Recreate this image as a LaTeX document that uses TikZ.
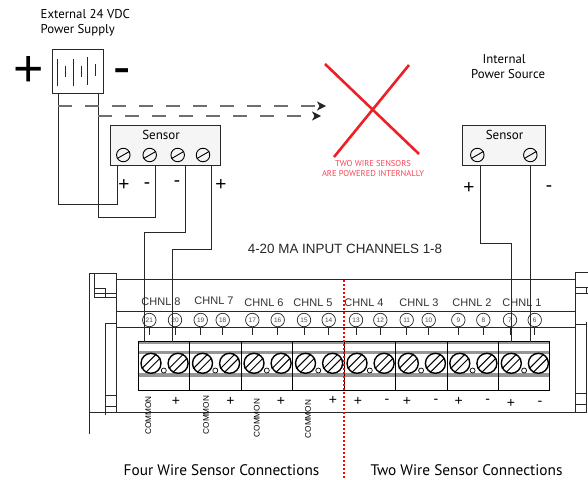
\documentclass[tikz,border=0pt]{standalone}
\usepackage{fontspec}
\setmainfont{PT Sans}
\newfontfamily\chnlfont{Liberation Sans}
\usetikzlibrary{arrows.meta,calc,positioning}
\definecolor{wireColor}{RGB}{40,40,40}
\definecolor{dashColor}{RGB}{110,110,110}
\definecolor{crossColor}{RGB}{237,32,39}
\definecolor{noteColor}{RGB}{245,70,85}
\definecolor{sensorColor}{RGB}{245,245,245}
\definecolor{bandColor}{RGB}{150,150,150}
\tikzset{wire/.style={draw=wireColor, line width=.95pt}}
\tikzset{frame/.style={draw=wireColor, line width=.9pt}}
\tikzset{dashwire/.style={draw=dashColor, line width=1.2pt, dash pattern=on 14pt off 13pt}}
\tikzset{sensorbox/.style={draw=wireColor, fill=sensorColor, line width=.95pt, inner sep=0pt}}
\tikzset{sensorscrew/.style={circle, draw=black, line width=.9pt, minimum size=13.5pt, inner sep=0pt}}
\tikzset{termscrew/.style={circle, draw=black, line width=1.4pt, minimum size=20pt, inner sep=0pt}}
\tikzset{numlabel/.style={circle, draw=wireColor, fill=white, line width=.7pt, minimum size=13.5pt, inner sep=0pt, font=\chnlfont\fontsize{6.5}{6.5}\selectfont, text=black!70}}
\tikzset{chnl/.style={font=\chnlfont\fontsize{11}{11}\selectfont, text=black!80, inner sep=0pt}}
\tikzset{polarity/.style={font=\chnlfont\fontsize{14}{14}\selectfont, inner sep=0pt}}
\tikzset{common/.style={font=\chnlfont\fontsize{8.2}{8.2}\selectfont, rotate=90, inner sep=0pt}}
\tikzset{caption/.style={font=\fontsize{15.3}{15.3}\selectfont, inner sep=0pt}}
\tikzset{note/.style={font=\fontsize{12.8}{12.8}\selectfont, inner sep=0pt, anchor=west}}
\begin{document}
\begin{tikzpicture}[x=1pt, y=-1pt]
\pgfdeclarelayer{background}
\pgfsetlayers{background,main}
\useasboundingbox (0,0) rectangle (588,479);

% Nodes
\node (ExternalLabel) [note] at (40.5,14) {External 24 VDC};
\node (SupplyLabel) [note] at (40.5,30) {Power Supply};
\node (InternalLabel) [note] at (482.5,59) {Internal};
\node (SourceLabel) [note] at (471,74.5) {Power Source};

\node (PowerSupply) [sensorbox, fill=white, minimum width=50.6pt, minimum height=44.3pt] at (78,71.8) {};
\node (SupplyPlus) [font=\chnlfont\fontsize{52}{52}\selectfont, inner sep=0pt] at (29,71) {+};
\node (SupplyMinus) [font=\chnlfont\fontsize{52}{52}\selectfont, inner sep=0pt] at (122.5,76.5) {-};

\node (SensorFour) [sensorbox, minimum width=109.7pt, minimum height=40.3pt] at (165.2,145.8) {};
\node (SensorFourLabel) [font=\fontsize{13}{13}\selectfont, inner sep=0pt] at (161,135) {Sensor};
\node (SensorTwo) [sensorbox, minimum width=82.7pt, minimum height=40.3pt] at (504.3,145.8) {};
\node (SensorTwoLabel) [font=\fontsize{13}{13}\selectfont, inner sep=0pt] at (504.5,135) {Sensor};

\node (InputTitle) [font=\chnlfont\fontsize{13.4}{13.4}\selectfont, text=black!85, inner sep=0pt] at (345,249) {4-20 MA INPUT CHANNELS 1-8};
\node (CrossNote) [font=\fontsize{8.5}{10}\selectfont, text=noteColor, inner sep=0pt, align=center] at (373,169) {TWO WIRE SENSORS\\ ARE POWERED INTERNALLY};
\node (FourWireCaption) [caption] at (221.5,470) {Four Wire Sensor Connections};
\node (TwoWireCaption) [caption] at (466.5,470) {Two Wire Sensor Connections};

% Sensor screws
\foreach \name/\xpos in {A/123.3,B/149.7,C/177.7,D/203,E/477.3,F/530.3} {
  \node (Screw\name) [sensorscrew] at (\xpos,155) {};
  \draw [line width=.9pt] (Screw\name.210) -- (Screw\name.30);
}

% Battery plates
\foreach \xpos/\ytop/\ybot in {57.3/59/86,65.3/66/77,73/59/86,81/66/77,87.7/57/85,95.7/64/76} {
  \draw [frame] (\xpos,\ytop) -- (\xpos,\ybot);
}

% Sensor polarity marks
\foreach \name/\xpos/\ypos/\mark in {A/124/185/+,B/147/186/-,C/177/184/-,D/221/185/+,E/469/188/+,F/549/189/-} {
  \node (Polarity\name) [polarity, font=\chnlfont\fontsize{19}{19}\selectfont] at (\xpos,\ypos) {\mark};
}

% Base frame
\draw [frame] (116,279.5) -- (575.5,279.5);
\draw [frame] (116,311.7) -- (575.5,311.7);
\draw [frame] (116,327.3) -- (575.5,327.3);
\draw [frame] (89,412.7) -- (586,412.7);

\draw [frame] (89,433.7) -- (89,273) -- (116,273) -- (116,412.7);
\draw [frame] (94.3,273) -- (94.3,297) -- (116,297);
\draw [frame] (94.3,293.7) -- (116,293.7);
\draw [frame] (94.3,288) -- (105.7,288) -- (105.7,297);
\draw [frame] (105,414.7) -- (105,323.7) -- (116,323.7);
\draw [frame] (105,395) -- (116,395);
\draw [frame] (105,406) -- (116,406);

\draw [frame] (575.5,412.7) -- (575.5,272) -- (588,272);
\draw [frame] (575.5,287) -- (588,287);
\draw [frame] (575.5,293) -- (588,293);
\draw [frame] (586,287) -- (586,293);
\draw [frame] (575.5,324) -- (586.3,324);
\draw [frame] (586.3,322) -- (586.3,412.7);
\draw [frame] (575.5,393.7) -- (586.3,393.7);
\draw [frame] (575.5,404) -- (586.3,404);

% Terminal block
\node (TerminalBlock) [draw=black, line width=.95pt, inner sep=0pt, minimum width=411pt, minimum height=49pt] at (343.7,366) {};
\begin{pgfonlayer}{background}
\fill [bandColor] (138.3,341.5) rectangle (549.3,343.5);
\fill [bandColor] (138.3,350.7) rectangle (549.3,354);
\fill [bandColor] (138.3,373.3) rectangle (549.3,376.7);
\end{pgfonlayer}
\foreach \xpos in {189.6,241,292.6,344.4,395.7,447,498.3} {
  \draw [line width=.95pt] (TerminalBlock.north -| \xpos,0) -- (TerminalBlock.south -| \xpos,0);
}

% Terminal screws, one pair for each channel
\foreach \num/\xpos in {1/151,2/202.5,3/254,4/305.5,5/357,6/408.3,7/459.8,8/511.3} {
  \node (ScrewLeft\num) [termscrew] at (\xpos,363.3) {};
  \node (ScrewRight\num) [termscrew, right=5.7pt of ScrewLeft\num] {};
  \node (ScrewHole\num) [circle, draw=black, line width=.7pt, minimum size=5pt, inner sep=0pt] at (\xpos+12.8,370.5) {};
  \foreach \side in {Left,Right} {
    \draw [line width=1pt] (Screw\side\num.60) -- (Screw\side\num.210);
    \draw [line width=1pt] (Screw\side\num.30) -- (Screw\side\num.240);
  }
}

% Numbered contacts
\foreach \num/\xpos in {21/149.3,20/175,19/200.7,18/222.7,17/252.3,16/277.7,15/304,14/328.7,13/356,12/380.3,11/406.7,10/428.7,9/458.3,8/483.3,7/510,6/534.7} {
  \node (Contact\num) [numlabel] at (\xpos,320) {\num};
  \draw [line width=.8pt, draw=wireColor] (Contact\num.south) -- ++(0,8);
}

% Channel names
\foreach \num/\xpos/\ypos in {8/161/302,7/214/301,6/264/303,5/313/303,4/364/303,3/419/303,2/472/303,1/522/303} {
  \node (Channel\num) [chnl] at (\xpos,\ypos) {CHNL \num};
}

% Polarity below the block
\foreach \name/\xpos/\ypos/\mark in {a/176/401/+,b/230.5/401/+,c/281/401/+,d/333/400/+,e/358/401/+,f/387/401/-,g/407/401/+,h/436/401/-,i/458.7/401/+,j/487.7/401/-,k/511/403/+,l/540/403/-} {
  \node (Mark\name) [polarity] at (\xpos,\ypos) {\mark};
}
\foreach \name/\xpos/\ypos in {a/148.3/415.7,b/206/415,c/256.7/418,d/308/419} {
  \node (Common\name) [common] at (\xpos,\ypos) {COMMON};
}

% Connectors
\coordinate (SupplyLeft) at (58,94);
\coordinate (SupplyRight) at (98.3,94);
\coordinate (FourPlus) at (117.3,166);
\coordinate (FourMinus) at (155.7,166);
\coordinate (LoopMinus) at (185.7,166);
\coordinate (LoopPlus) at (211,166);
\coordinate (TwoPlus) at (480,166);
\coordinate (TwoMinus) at (530.3,166);
\coordinate (PinCommon) at (144.3,341.5);
\coordinate (PinPlus) at (172.7,341.5);
\coordinate (PinSeven) at (511,341.5);
\coordinate (PinSix) at (530.3,341.5);
\coordinate (DashTop) at (58,106);
\coordinate (DashLow) at (98.3,116);
\coordinate (TipTop) at (326,106);
\coordinate (TipLow) at (321,116);

\draw [wire] (SupplyLeft) |- (FourPlus |- 0,204) -- (FourPlus);
\draw [wire] (SupplyRight) |- (FourMinus |- 0,217) -- (FourMinus);
\draw [wire] (LoopMinus) |- (PinCommon |- 0,232) -- (PinCommon);
\draw [wire] (LoopPlus) |- (PinPlus |- 0,249.3) -- (PinPlus);
\draw [wire] (TwoPlus) |- (PinSeven |- 0,243.7) -- (PinSeven);
\draw [wire] (TwoMinus) -- (PinSix);

\draw [dashwire, -{Stealth[length=9pt, width=9pt, inset=2.5pt, black!85]}] (DashTop) -- (TipTop);
\draw [dashwire, -{Stealth[length=9pt, width=9pt, inset=2.5pt, black!85]}] (DashLow) -- (TipLow);

\coordinate (CrossA) at (325,64);
\coordinate (CrossB) at (419,154);
\coordinate (CrossC) at (409,65);
\coordinate (CrossD) at (334,157);
\draw [draw=crossColor, line width=2.6pt] (CrossA) -- (CrossB);
\draw [draw=crossColor, line width=2.6pt] (CrossC) -- (CrossD);

\coordinate (DividerTop) at (344,280);
\coordinate (DividerEnd) at (344,479);
\draw [draw=red, line width=1.5pt, dash pattern=on 2pt off 2pt] (DividerTop) -- (DividerEnd);

\end{tikzpicture}
\end{document}
